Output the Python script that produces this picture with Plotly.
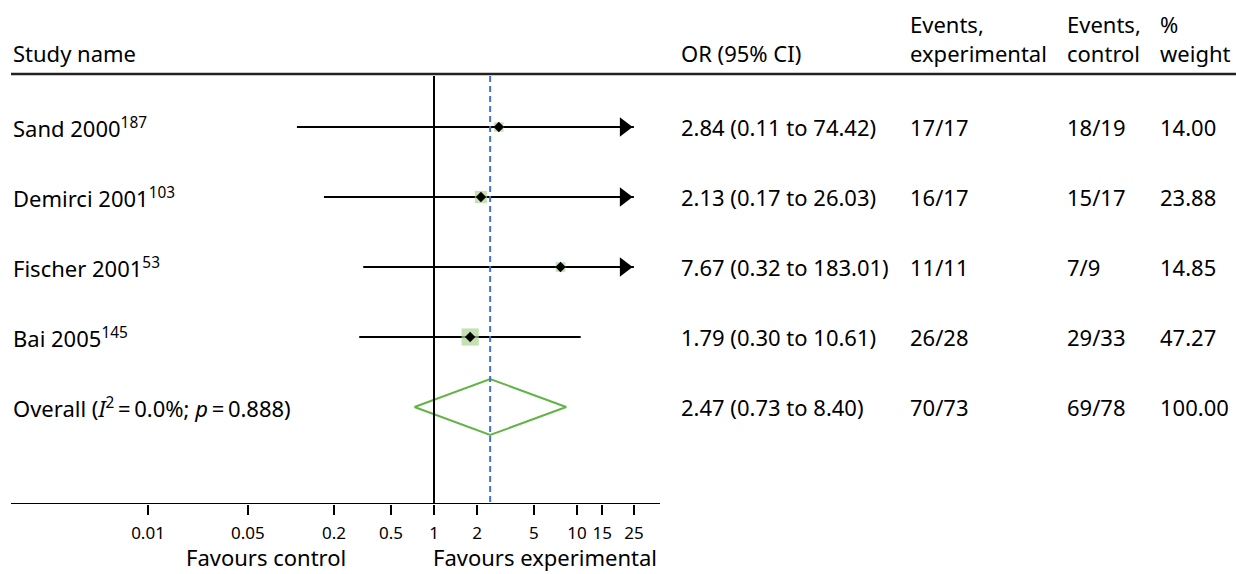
import math
import plotly.graph_objects as go

# ---------------- data ----------------
studies = ["Sand 2000<sup>187</sup>", "Demirci 2001<sup>103</sup>",
           "Fischer 2001<sup>53</sup>", "Bai 2005<sup>145</sup>"]
overall_label = "Overall (<i>I</i><sup>2</sup>\u2009=\u20090.0%; <i>p</i>\u2009=\u20090.888)"
odds_ratio = [2.84, 2.13, 7.67, 1.79]
ci_low = [0.11, 0.17, 0.32, 0.30]
ci_high = [74.42, 26.03, 183.01, 10.61]
weights = [14.00, 23.88, 14.85, 47.27]
events_exp = ["17/17", "16/17", "11/11", "26/28"]
events_ctrl = ["18/19", "15/17", "7/9", "29/33"]
overall_or = 2.47
overall_low = 0.73
overall_high = 8.40
overall_exp = "70/73"
overall_ctrl = "69/78"
overall_weight = 100.00
tick_vals = [0.01, 0.05, 0.2, 0.5, 1, 2, 5, 10, 15, 25]
tick_text = ["0.01", "0.05", "0.2", "0.5", "1", "2", "5", "10", "15", "25"]
axis_max = 25
header_top = ["", "", "Events,", "Events,", "%"]
header_bottom = ["Study name", "OR (95% CI)", "experimental", "control", "weight"]
favours = ["Favours control", "Favours experimental"]

# ---------------- layout constants ----------------
W, H = 1236, 574
FONT = "Noto Sans, Open Sans, sans-serif"
FS = 22
PX_DECADE = 143.0
X1_PX = 434.0
ROW0_PX, ROW_STEP = 127.0, 70.0
PLOT_BOTTOM = 504.0
GREEN_SQ = "#acd391"
GREEN_LINE = "#62b446"
BLUE = "#4472c4"

xr0 = -X1_PX / PX_DECADE
xr1 = xr0 + W / PX_DECADE
yr_top = -ROW0_PX / ROW_STEP
yr_bot = (PLOT_BOTTOM - ROW0_PX) / ROW_STEP


def py(px):  # pixel y -> row units
    return (px - ROW0_PX) / ROW_STEP


def pxx(px):  # pixel x -> paper
    return px / W


fig = go.Figure()

# CI lines and arrows
for i in range(len(studies)):
    hi = min(ci_high[i], axis_max)
    fig.add_trace(go.Scatter(x=[ci_low[i], hi], y=[i, i], mode="lines",
                             line=dict(color="black", width=2), hoverinfo="skip",
                             showlegend=False))
    if ci_high[i] > axis_max:
        fig.add_trace(go.Scatter(x=[hi], y=[i], mode="markers",
                                 marker=dict(symbol="triangle-up", angle=90, size=17,
                                             standoff=17 / math.sqrt(3),
                                             color="black", line=dict(width=0)),
                                 hoverinfo="skip", showlegend=False))

# weight squares
fig.add_trace(go.Scatter(x=odds_ratio, y=list(range(len(studies))), mode="markers",
                         marker=dict(symbol="square", color=GREEN_SQ,
                                     size=[2.5 * math.sqrt(w) for w in weights],
                                     line=dict(width=0)),
                         hoverinfo="skip", showlegend=False))
# point estimates
fig.add_trace(go.Scatter(x=odds_ratio, y=list(range(len(studies))), mode="markers",
                         marker=dict(symbol="diamond", color="black", size=8,
                                     line=dict(width=0)),
                         hoverinfo="skip", showlegend=False))

# overall diamond
r = len(studies)
dh = 28 / ROW_STEP
fig.add_trace(go.Scatter(x=[overall_low, overall_or, overall_high, overall_or, overall_low],
                         y=[r, r - dh, r, r + dh, r], mode="lines",
                         line=dict(color=GREEN_LINE, width=2), hoverinfo="skip",
                         showlegend=False))

shapes = []
# header line
shapes.append(dict(type="line", xref="paper", yref="y", x0=pxx(11), x1=1, y0=py(74), y1=py(74),
                   line=dict(color="#222", width=2.5)))
# null line
shapes.append(dict(type="line", xref="x", yref="y", x0=1, x1=1, y0=py(76), y1=yr_bot,
                   line=dict(color="black", width=2)))
# overall line
shapes.append(dict(type="line", xref="x", yref="y", x0=overall_or, x1=overall_or,
                   y0=py(76), y1=yr_bot, line=dict(color=BLUE, width=2, dash="6px,4px")))
# bottom axis line
shapes.append(dict(type="line", xref="paper", yref="y", x0=pxx(11), x1=pxx(660), y0=yr_bot, y1=yr_bot,
                   line=dict(color="black", width=2)))

ann = []


def text(x, y, s, size=FS, xanchor="left", yanchor="middle", yref="y"):
    ann.append(dict(x=x, y=y, xref="paper", yref=yref, text=s, showarrow=False,
                    xanchor=xanchor, yanchor=yanchor, align="left",
                    font=dict(family=FONT, size=size, color="black")))


col_x = [11, 679, 908, 1065, 1158]
for j in range(len(col_x)):
    if header_top[j]:
        text(pxx(col_x[j]), py(38.5), header_top[j] + "<br>" + header_bottom[j])
    else:
        text(pxx(col_x[j]), py(53), header_bottom[j])

for i in range(len(studies)):
    text(pxx(col_x[0]), i, studies[i])
    text(pxx(col_x[1]), i, f"{odds_ratio[i]:.2f} ({ci_low[i]:.2f} to {ci_high[i]:.2f})")
    text(pxx(col_x[2]), i, events_exp[i])
    text(pxx(col_x[3]), i, events_ctrl[i])
    text(pxx(col_x[4]), i, f"{weights[i]:.2f}")
text(pxx(col_x[0]), r, overall_label)
text(pxx(col_x[1]), r, f"{overall_or:.2f} ({overall_low:.2f} to {overall_high:.2f})")
text(pxx(col_x[2]), r, overall_exp)
text(pxx(col_x[3]), r, overall_ctrl)
text(pxx(col_x[4]), r, f"{overall_weight:.2f}")

# favours labels (paper coords, at the bottom edge)
text(pxx(266), 0, favours[0], xanchor="center", yanchor="bottom", yref="paper")
text(pxx(545), 0, favours[1], xanchor="center", yanchor="bottom", yref="paper")

fig.update_layout(
    width=W, height=H, margin=dict(l=0, r=0, t=0, b=0),
    plot_bgcolor="white", paper_bgcolor="white",
    xaxis=dict(type="log", range=[xr0, xr1], tickvals=tick_vals, ticktext=tick_text,
               showgrid=False, zeroline=False, showline=False, ticks="outside",
               ticklen=10, tickwidth=2, tickcolor="black", ticklabelstandoff=4,
               tickfont=dict(family=FONT, size=17, color="black")),
    yaxis=dict(range=[yr_bot, yr_top], visible=False, showgrid=False, zeroline=False,
               domain=[(H - PLOT_BOTTOM) / H, 1]),
    shapes=shapes, annotations=ann, showlegend=False,
)

fig.write_html("out.html", config={"displayModeBar": False},
               post_script="document.body.style.margin='0';document.body.style.overflow='hidden';")
